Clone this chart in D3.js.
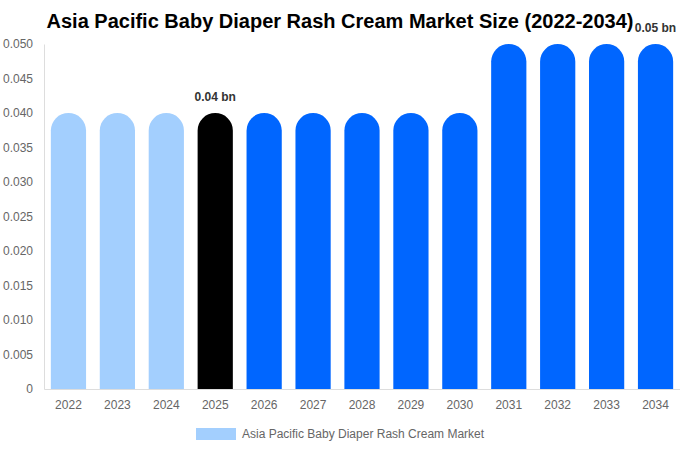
<!DOCTYPE html>
<html>
<head>
<meta charset="utf-8">
<script src="https://cdn.jsdelivr.net/npm/d3@7"></script>
<style>
  body { margin: 0; background: #fff; }
  svg { font-family: "Liberation Sans", Arial, sans-serif; }
</style>
</head>
<body>
<svg id="chart" width="680" height="450"></svg>
<script>
const years = ['2022', '2023', '2024', '2025', '2026', '2027', '2028', '2029', '2030', '2031', '2032', '2033', '2034'];
const values = [0.04, 0.04, 0.04, 0.04, 0.04, 0.04, 0.04, 0.04, 0.04, 0.05, 0.05, 0.05, 0.05];
const yTicks = [0, 0.005, 0.01, 0.015, 0.02, 0.025, 0.03, 0.035, 0.04, 0.045, 0.05];
const labelled = { '2025': '0.04 bn', '2034': '0.05 bn' };
const seriesName = 'Asia Pacific Baby Diaper Rash Cream Market';

const svg = d3.select('#chart');
const margin = { top: 44, right: 0, bottom: 61, left: 44 };
const width = 680, height = 450;

const lightBlue = '#a3cffe';
const blue = '#0066ff';
const barColor = (yr, i) => yr === '2025' ? '#000000' : (i < 3 ? lightBlue : blue);

const x = d3.scaleBand()
  .domain(years)
  .range([margin.left, width - margin.right])
  .paddingInner(0.28)
  .paddingOuter(0.14);

const y = d3.scaleLinear()
  .domain([0, 0.05])
  .range([height - margin.bottom, margin.top]);

// title
svg.append('text')
  .attr('x', 340).attr('y', 28)
  .attr('text-anchor', 'middle')
  .style('font-size', '20px').style('font-weight', 'bold').style('fill', '#000')
  .text('Asia Pacific Baby Diaper Rash Cream Market Size (2022-2034)');

// y axis
const yAxis = svg.append('g')
  .attr('transform', `translate(${margin.left},0)`)
  .call(d3.axisLeft(y).tickValues(yTicks).tickSize(0).tickPadding(11)
    .tickFormat(d => d === 0 ? '0' : d3.format('.3f')(d)));
yAxis.select('.domain').attr('stroke', '#ddd');
yAxis.selectAll('text').style('font-size', '12px').style('fill', '#666')
  .style('font-family', '"Liberation Sans", Arial, sans-serif');

// bars with rounded tops
const bw = x.bandwidth();
const r = bw / 2;
svg.append('g').selectAll('path')
  .data(years)
  .join('path')
  .attr('fill', (d, i) => barColor(d, i))
  .attr('d', (d, i) => {
    const x0 = x(d), y0 = y(values[i]), yb = y(0);
    return `M${x0},${yb} L${x0},${y0 + r} A${r},${r} 0 0 1 ${x0 + bw},${y0 + r} L${x0 + bw},${yb} Z`;
  });

// x axis
const xAxis = svg.append('g')
  .attr('transform', `translate(0,${height - margin.bottom})`)
  .call(d3.axisBottom(x).tickSize(0).tickPadding(11));
xAxis.select('.domain').attr('stroke', '#ddd');
xAxis.selectAll('text').style('font-size', '12px').style('fill', '#666')
  .style('font-family', '"Liberation Sans", Arial, sans-serif');

// value labels
svg.append('g').selectAll('text')
  .data(years.filter(d => labelled[d]))
  .join('text')
  .attr('x', d => x(d) + bw / 2)
  .attr('y', d => y(values[years.indexOf(d)]) - 12)
  .attr('text-anchor', 'middle')
  .style('font-size', '12px').style('font-weight', 'bold').style('fill', '#333')
  .text(d => labelled[d]);

// legend
const legend = svg.append('g').attr('transform', 'translate(196,428)');
legend.append('rect').attr('width', 40).attr('height', 12).attr('fill', lightBlue);
legend.append('text').attr('x', 46).attr('y', 10)
  .style('font-size', '12px').style('fill', '#666')
  .text(seriesName);
</script>
</body>
</html>
